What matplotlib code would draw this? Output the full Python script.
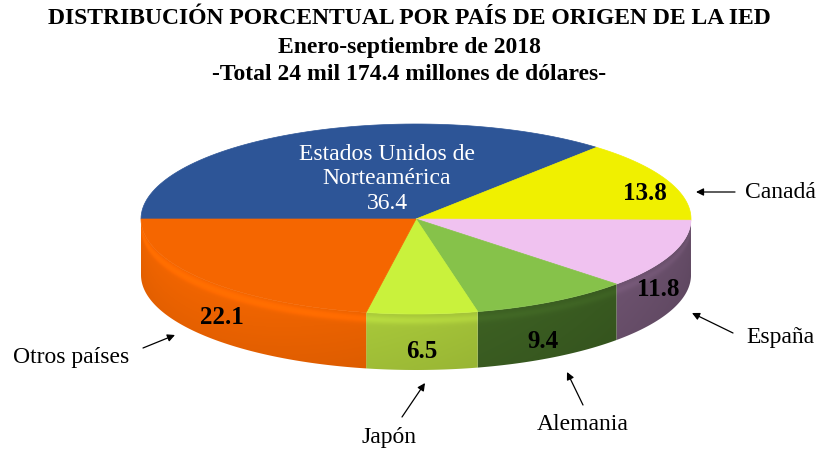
import matplotlib
matplotlib.use('Agg')
import numpy as np
import matplotlib.pyplot as plt
from matplotlib.patches import Polygon
from matplotlib.colors import to_rgb

# datos: distribución porcentual de la IED por país de origen
paises = ['Estados Unidos de\nNorteamérica', 'Canadá', 'España', 'Alemania', 'Japón', 'Otros países']
valores = [36.4, 13.8, 11.8, 9.4, 6.5, 22.1]

color_top = ['#2d5597', '#f0f000', '#f0c2f0', '#86c24a', '#c9f23c', '#f56600']
color_lado = ['#23437a', '#b8b800', '#7a5c7c', '#3f6424', '#a8c83a', '#ea6200']

# geometría del pastel en píxeles (eje invertido)
cx, cy, a, b, prof = 416, 219, 275, 95, 56

fig = plt.figure(figsize=(8.18, 4.49), dpi=100)
ax = fig.add_axes([0, 0, 1, 1])

def punto(t, dy=0):
    return cx + a * np.cos(t), cy - b * np.sin(t) + dy

# ángulos: desde 180° en sentido horario
fr = np.array(valores) / sum(valores)
lim = np.deg2rad(180 - 360 * np.concatenate([[0], np.cumsum(fr)]))

# paredes laterales (solo la mitad frontal), con degradado
for i in range(len(valores)):
    t_hi, t_lo = lim[i], lim[i + 1]
    segs = []
    for off in (0, -2 * np.pi):
        l, h = max(t_lo + off, -np.pi), min(t_hi + off, 0)
        if h > l:
            segs.append((l, h))
    for l, h in segs:
        ts = np.linspace(h, l, 100)
        xt, yt = punto(ts)
        xb, yb = punto(ts[::-1], prof)
        verts = np.column_stack([np.r_[xt, xb], np.r_[yt, yb]])
        poly = Polygon(verts, closed=True, facecolor='none', edgecolor='none')
        ax.add_patch(poly)
        x0, x1 = verts[:, 0].min() - 1, verts[:, 0].max() + 1
        y0, y1 = verts[:, 1].min() - 1, verts[:, 1].max() + 1
        gx = np.arange(x0, x1, 0.5)
        gy = np.arange(y0, y1, 0.5)
        X, Y = np.meshgrid(gx, gy)
        th = -np.arccos(np.clip((X - cx) / a, -1, 1))
        ytop = cy - b * np.sin(th)
        d = (Y - ytop) / prof
        sh = 0.92 + 0.12 * np.cos(th - np.deg2rad(-145))
        sh = sh * (1 + 0.10 * np.exp(-((d - 0.12) / 0.07) ** 2)) * (1 - 0.06 * np.clip(d, 0, 1))
        img = np.clip(np.array(to_rgb(color_lado[i]))[None, None, :] * sh[..., None], 0, 1)
        im = ax.imshow(img, extent=(x0, x1, y1, y0), origin='upper',
                       interpolation='bilinear', aspect='auto')
        im.set_clip_path(poly)

# cara superior
for i in range(len(valores)):
    ts = np.linspace(lim[i], lim[i + 1], 80)
    xs, ys = punto(ts)
    pts = [(cx, cy)] + list(zip(xs, ys))
    ax.add_patch(Polygon(pts, closed=True, facecolor=color_top[i],
                         edgecolor=color_top[i], linewidth=0.5))

ax.set_xlim(0, 818)
ax.set_ylim(449, 0)
ax.axis('off')

serif = 'Liberation Serif'

# títulos
ax.text(409, 19, 'DISTRIBUCIÓN PORCENTUAL POR PAÍS DE ORIGEN DE LA IED',
        ha='center', va='center', fontsize=17, fontweight='bold', family=serif)
ax.text(409, 47, 'Enero-septiembre de 2018', ha='center', va='center',
        fontsize=17, fontweight='bold', family=serif)
ax.text(409, 75, '-Total 24 mil 174.4 millones de dólares-', ha='center', va='center',
        fontsize=17, fontweight='bold', family=serif)

# etiquetas de valor
pos_valor = [(387, 179), (645, 193), (658, 290), (543, 341), (422, 352), (222, 318)]
for i, (x, y) in enumerate(pos_valor):
    if i == 0:
        ax.text(x, y, f'{paises[0]}\n{valores[0]:.1f}', ha='center', va='center',
                fontsize=17, color='white', family=serif, linespacing=1.2)
    else:
        ax.text(x, y, f'{valores[i]:.1f}', ha='center', va='center',
                fontsize=18, fontweight='bold', color='black', family=serif)

# etiquetas externas con flecha
pos_nombre = [None, (780, 192), (780, 338), (583, 425), (389, 437), (71, 358)]
pos_flecha = [None, ((735, 192), (696, 192)), ((733, 333), (692, 313)),
              ((583, 405), (567, 372)), ((402, 417), (425, 383)),
              ((143, 348), (175, 335))]
for i in range(1, len(paises)):
    ax.text(*pos_nombre[i], paises[i], ha='center', va='center', fontsize=17,
            family=serif)
    ini, fin = pos_flecha[i]
    ax.annotate('', xy=fin, xytext=ini,
                arrowprops=dict(arrowstyle='-|>', color='black', lw=0.9,
                                mutation_scale=11, shrinkA=0, shrinkB=0))

fig.savefig('out.png', dpi=100)
